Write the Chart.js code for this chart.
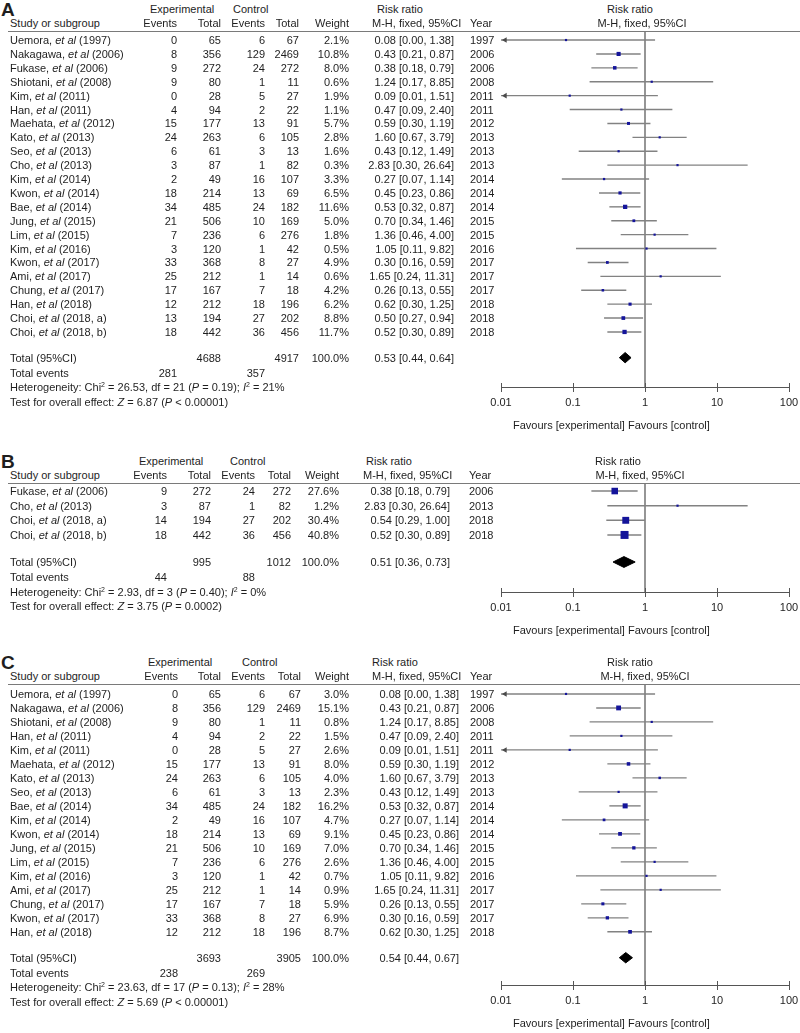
<!DOCTYPE html>
<html><head><meta charset="utf-8">
<script src="https://cdn.jsdelivr.net/npm/chart.js@4.4.0/dist/chart.umd.min.js"></script>
<style>
html,body{margin:0;padding:0;background:#fff;}
#wrap{position:relative;width:800px;height:1033px;overflow:hidden;font-family:"Liberation Sans",Arial,sans-serif;font-size:11px;color:#1e1e1e;}
.t{position:absolute;white-space:nowrap;line-height:14px;height:14px;}
canvas{position:absolute;left:0;}
.rule{position:absolute;height:0;border-top:1px solid #7a7a7a;}
.lbl{position:absolute;font-weight:bold;font-size:19px;line-height:20px;height:20px;}
sup{font-size:7px;line-height:0;vertical-align:4px;}
</style></head><body><div id="wrap"></div>
<script>
// ---------- axis ticks ----------
const xTickValues = [0.01, 0.1, 1, 10, 100];
const xTickLabels = ['0.01', '0.1', '1', '10', '100'];

// ---------- Panel A ----------
const aAuthors = ['Uemora','Nakagawa','Fukase','Shiotani','Kim','Han','Maehata','Kato','Seo','Cho','Kim','Kwon','Bae','Jung','Lim','Kim','Kwon','Ami','Chung','Han','Choi','Choi'];
const aTags = ['1997','2006','2006','2008','2011','2011','2012','2013','2013','2013','2014','2014','2014','2015','2015','2016','2017','2017','2017','2018','2018, a','2018, b'];
const aExpEvents = [0,8,9,9,0,4,15,24,6,3,2,18,34,21,7,3,33,25,17,12,13,18];
const aExpTotal = [65,356,272,80,28,94,177,263,61,87,49,214,485,506,236,120,368,212,167,212,194,442];
const aCtlEvents = [6,129,24,1,5,2,13,6,3,1,16,13,24,10,6,1,8,1,7,18,27,36];
const aCtlTotal = [67,2469,272,11,27,22,91,105,13,82,107,69,182,169,276,42,27,14,18,196,202,456];
const aWeight = [2.1,10.8,8.0,0.6,1.9,1.1,5.7,2.8,1.6,0.3,3.3,6.5,11.6,5.0,1.8,0.5,4.9,0.6,4.2,6.2,8.8,11.7];
const aRR = [0.08,0.43,0.38,1.24,0.09,0.47,0.59,1.60,0.43,2.83,0.27,0.45,0.53,0.70,1.36,1.05,0.30,1.65,0.26,0.62,0.50,0.52];
const aLo = [0.00,0.21,0.18,0.17,0.01,0.09,0.30,0.67,0.12,0.30,0.07,0.23,0.32,0.34,0.46,0.11,0.16,0.24,0.13,0.30,0.27,0.30];
const aHi = [1.38,0.87,0.79,8.85,1.51,2.40,1.19,3.79,1.49,26.64,1.14,0.86,0.87,1.46,4.00,9.82,0.59,11.31,0.55,1.25,0.94,0.89];
const aYear = [1997,2006,2006,2008,2011,2011,2012,2013,2013,2013,2014,2014,2014,2015,2015,2016,2017,2017,2017,2018,2018,2018];
const aTotals = [4688, 4917];
const aTotalEvents = [281, 357];
const aPooled = [0.53, 0.44, 0.64];
const aHet = ['26.53', '21', '0.19', '21'];
const aZ = ['6.87', '< 0.00001'];

// ---------- Panel B ----------
const bAuthors = ['Fukase','Cho','Choi','Choi'];
const bTags = ['2006','2013','2018, a','2018, b'];
const bExpEvents = [9,3,14,18];
const bExpTotal = [272,87,194,442];
const bCtlEvents = [24,1,27,36];
const bCtlTotal = [272,82,202,456];
const bWeight = [27.6,1.2,30.4,40.8];
const bRR = [0.38,2.83,0.54,0.52];
const bLo = [0.18,0.30,0.29,0.30];
const bHi = [0.79,26.64,1.00,0.89];
const bYear = [2006,2013,2018,2018];
const bTotals = [995, 1012];
const bTotalEvents = [44, 88];
const bPooled = [0.51, 0.36, 0.73];
const bHet = ['2.93', '3', '0.40', '0'];
const bZ = ['3.75', '= 0.0002'];

// ---------- Panel C ----------
const cAuthors = ['Uemora','Nakagawa','Shiotani','Han','Kim','Maehata','Kato','Seo','Bae','Kim','Kwon','Jung','Lim','Kim','Ami','Chung','Kwon','Han'];
const cTags = ['1997','2006','2008','2011','2011','2012','2013','2013','2014','2014','2014','2015','2015','2016','2017','2017','2017','2018'];
const cExpEvents = [0,8,9,4,0,15,24,6,34,2,18,21,7,3,25,17,33,12];
const cExpTotal = [65,356,80,94,28,177,263,61,485,49,214,506,236,120,212,167,368,212];
const cCtlEvents = [6,129,1,2,5,13,6,3,24,16,13,10,6,1,1,7,8,18];
const cCtlTotal = [67,2469,11,22,27,91,105,13,182,107,69,169,276,42,14,18,27,196];
const cWeight = [3.0,15.1,0.8,1.5,2.6,8.0,4.0,2.3,16.2,4.7,9.1,7.0,2.6,0.7,0.9,5.9,6.9,8.7];
const cRR = [0.08,0.43,1.24,0.47,0.09,0.59,1.60,0.43,0.53,0.27,0.45,0.70,1.36,1.05,1.65,0.26,0.30,0.62];
const cLo = [0.00,0.21,0.17,0.09,0.01,0.30,0.67,0.12,0.32,0.07,0.23,0.34,0.46,0.11,0.24,0.13,0.16,0.30];
const cHi = [1.38,0.87,8.85,2.40,1.51,1.19,3.79,1.49,0.87,1.14,0.86,1.46,4.00,9.82,11.31,0.55,0.59,1.25];
const cYear = [1997,2006,2008,2011,2011,2012,2013,2013,2014,2014,2014,2015,2015,2016,2017,2017,2017,2018];
const cTotals = [3693, 3905];
const cTotalEvents = [238, 269];
const cPooled = [0.54, 0.44, 0.67];
const cHet = ['23.63', '17', '0.13', '28'];
const cZ = ['5.69', '< 0.00001'];

// ---------- layout (positions only) ----------
const panels = [
  {letter:'A', authors:aAuthors, tags:aTags, ee:aExpEvents, et:aExpTotal, ce:aCtlEvents, ct:aCtlTotal, w:aWeight, rr:aRR, lo:aLo, hi:aHi, year:aYear, totals:aTotals, tev:aTotalEvents, pooled:aPooled, het:aHet, z:aZ,
   L:{ruleY:31, axisY:387, ruleIdx:-0.65, axisOff:2.96, ee:177, et:221, ce:265, ct:299, w:349, rrR:454, yr:470, expH:150, ctlH:233, rrH:377, mhH:372, rrc:630, mhc:642}},
  {letter:'B', authors:bAuthors, tags:bTags, ee:bExpEvents, et:bExpTotal, ce:bCtlEvents, ct:bCtlTotal, w:bWeight, rr:bRR, lo:bLo, hi:bHi, year:bYear, totals:bTotals, tev:bTotalEvents, pooled:bPooled, het:bHet, z:bZ,
   L:{ruleY:483, axisY:592, ruleIdx:-0.55, axisOff:2.9, ee:167, et:211, ce:255, ct:291, w:339, rrR:450, yr:469, expH:139, ctlH:230, rrH:366, mhH:363, rrc:618, mhc:640}},
  {letter:'C', authors:cAuthors, tags:cTags, ee:cExpEvents, et:cExpTotal, ce:cCtlEvents, ct:cCtlTotal, w:cWeight, rr:cRR, lo:cLo, hi:cHi, year:cYear, totals:cTotals, tev:cTotalEvents, pooled:cPooled, het:cHet, z:cZ,
   L:{ruleY:684, axisY:985, ruleIdx:-0.71, axisOff:2.8, ee:178, et:221, ce:265, ct:301, w:349, rrR:459, yr:470, expH:148, ctlH:242, rrH:372, mhH:372, rrc:630, mhc:645}}
];
const plotLeft = 501, plotRight = 789;

const wrap = document.getElementById('wrap');
const W = 800;
const CW = 812; // canvas a little wider than the page so the last tick label never squeezes the plot
function txt(html, x, y, align, cls){
  const d = document.createElement('div');
  d.className = cls || 't';
  d.innerHTML = html;
  const h = cls === 'lbl' ? 10 : 7;
  d.style.top = (y - h) + 'px';
  if (align === 'r') d.style.right = (W - x) + 'px';
  else if (align === 'c') { d.style.left = x + 'px'; d.style.transform = 'translateX(-50%)'; }
  else d.style.left = x + 'px';
  wrap.appendChild(d);
}
const f2 = v => v.toFixed(2);
const ciStr = (e, l, h) => `${f2(e)} [${f2(l)}, ${f2(h)}]`;

const upTicks = {
  id: 'upTicks',
  afterDraw(chart){
    const s = chart.scales.x, ctx = chart.ctx;
    ctx.save(); ctx.strokeStyle = '#555'; ctx.lineWidth = 1;
    s.ticks.forEach(t => {
      const x = Math.round(s.getPixelForValue(t.value)) + 0.5;
      ctx.beginPath(); ctx.moveTo(x, s.top - 4); ctx.lineTo(x, s.top); ctx.stroke();
    });
    ctx.restore();
  }
};

panels.forEach(p => {
  const L = p.L, n = p.authors.length;
  const extra = 34;
  const H = L.axisY - L.ruleY + extra;
  const canvas = document.createElement('canvas');
  canvas.width = CW; canvas.height = H;
  canvas.style.top = L.ruleY + 'px';
  wrap.appendChild(canvas);
  const xMin = xTickValues[0], xMax = xTickValues[xTickValues.length - 1];
  const totalIdx = n + 0.85;
  const datasets = [];
  for (let i = 0; i < n; i++) {
    datasets.push({type:'line', data:[{x:Math.max(p.lo[i], xMin), y:i}, {x:p.hi[i], y:i}],
      borderColor:'#828282', borderWidth:1.4, pointRadius:0, pointHoverRadius:0, fill:false, order:3});
  }
  const arrows = [];
  for (let i = 0; i < n; i++) if (p.lo[i] <= xMin) arrows.push({x:xMin * 1.14, y:i});
  datasets.push({type:'scatter', data:arrows, pointStyle:'triangle', rotation:-90, pointRadius:3.2,
    backgroundColor:'#4a4a4a', borderColor:'#4a4a4a', borderWidth:0, order:2});
  datasets.push({type:'scatter', data:p.rr.map((v, i) => ({x:v, y:i})), pointStyle:'rect',
    pointRadius:p.w.map(w => Math.max(2.2, 1.25 * Math.sqrt(w)) / Math.SQRT2),
    backgroundColor:'#14149a', borderColor:'#14149a', borderWidth:0, order:0});
  const [pe, pl, ph] = p.pooled, dh = 0.37;
  datasets.push({type:'line', data:[{x:pl, y:totalIdx}, {x:pe, y:totalIdx - dh}, {x:ph, y:totalIdx}, {x:pe, y:totalIdx + dh}, {x:pl, y:totalIdx}],
    borderColor:'#000', borderWidth:1, backgroundColor:'#000', fill:'shape', pointRadius:0, pointHoverRadius:0, tension:0, order:0});
  datasets.push({type:'line', data:[{x:1, y:L.ruleIdx}, {x:1, y:n + L.axisOff}],
    borderColor:'#6a6a6a', borderWidth:1.4, pointRadius:0, pointHoverRadius:0, fill:false, order:4});

  const chart = new Chart(canvas.getContext('2d'), {
    type:'scatter',
    data:{datasets},
    options:{
      responsive:false, animation:false, devicePixelRatio:1, events:[],
      layout:{autoPadding:false, padding:{left:plotLeft, right:CW - plotRight, top:0, bottom:0}},
      plugins:{legend:{display:false}, tooltip:{enabled:false}},
      scales:{
        x:{type:'logarithmic', position:'bottom', min:xMin, max:xMax,
          afterBuildTicks:s => { s.ticks = xTickValues.map(v => ({value:v})); },
          ticks:{callback:(v, i) => xTickLabels[i], font:{family:'Liberation Sans', size:11}, color:'#1e1e1e', padding:4, maxRotation:0, autoSkip:false},
          grid:{drawOnChartArea:false, drawTicks:true, tickLength:5, color:'#555', lineWidth:1},
          border:{display:true, color:'#555', width:1}},
        y:{type:'linear', reverse:true, min:L.ruleIdx, max:n + L.axisOff, display:false}
      }
    },
    plugins:[upTicks]
  });
  // align the plot area with the table rows
  const ca = chart.chartArea;
  const wantB = L.axisY - L.ruleY;
  const padB = Math.max(0, ca.bottom - wantB);
  const padR = Math.max(0, (CW - plotRight) - (plotRight - ca.right));
  chart.options.layout.padding = {left:plotLeft, right:padR, top:0, bottom:padB};
  chart.update();

  const ys = chart.scales.y;
  const yp = i => L.ruleY + ys.getPixelForValue(i);

  const r = document.createElement('div');
  r.className = 'rule'; r.style.top = L.ruleY + 'px'; r.style.left = '8px'; r.style.width = (W - 8) + 'px';
  wrap.appendChild(r);

  const h1 = L.ruleY - 22, h2 = L.ruleY - 8;
  txt(p.letter, 1, L.ruleY - 21, 'l', 'lbl');
  txt('Experimental', L.expH, h1, 'l');
  txt('Control', L.ctlH, h1, 'l');
  txt('Risk ratio', L.rrH, h1, 'l');
  txt('Risk ratio', L.rrc, h1, 'c');
  txt('Study or subgroup', 10, h2, 'l');
  txt('Events', L.ee, h2, 'r');
  txt('Total', L.et, h2, 'r');
  txt('Events', L.ce, h2, 'r');
  txt('Total', L.ct, h2, 'r');
  txt('Weight', L.w, h2, 'r');
  txt('M-H, fixed, 95%CI', L.mhH, h2, 'l');
  txt('Year', L.yr, h2, 'l');
  txt('M-H, fixed, 95%CI', L.mhc, h2, 'c');

  for (let i = 0; i < n; i++) {
    const y = yp(i);
    txt(`${p.authors[i]}, <i>et al</i> (${p.tags[i]})`, 10, y, 'l');
    txt(String(p.ee[i]), L.ee, y, 'r');
    txt(String(p.et[i]), L.et, y, 'r');
    txt(String(p.ce[i]), L.ce, y, 'r');
    txt(String(p.ct[i]), L.ct, y, 'r');
    txt(p.w[i].toFixed(1) + '%', L.w, y, 'r');
    txt(ciStr(p.rr[i], p.lo[i], p.hi[i]), L.rrR, y, 'r');
    txt(String(p.year[i]), L.yr, y, 'l');
  }
  const yT = yp(totalIdx);
  txt('Total (95%CI)', 10, yT, 'l');
  txt(String(p.totals[0]), L.et, yT, 'r');
  txt(String(p.totals[1]), L.ct, yT, 'r');
  txt('100.0%', L.w, yT, 'r');
  txt(ciStr(pe, pl, ph), L.rrR, yT, 'r');
  txt('Total events', 10, yT + 15, 'l');
  txt(String(p.tev[0]), L.ee, yT + 15, 'r');
  txt(String(p.tev[1]), L.ce, yT + 15, 'r');
  txt(`Heterogeneity: Chi<sup>2</sup> = ${p.het[0]}, df = ${p.het[1]} (<i>P</i> = ${p.het[2]}); <i>I</i><sup>2</sup> = ${p.het[3]}%`, 10, yT + 29.5, 'l');
  txt(`Test for overall effect: <i>Z</i> = ${p.z[0]} (<i>P</i> ${p.z[1]})`, 10, yT + 44, 'l');
  txt('Favours [experimental] Favours [control]', 513, L.axisY + 38, 'l');
});
</script>
</body></html>
